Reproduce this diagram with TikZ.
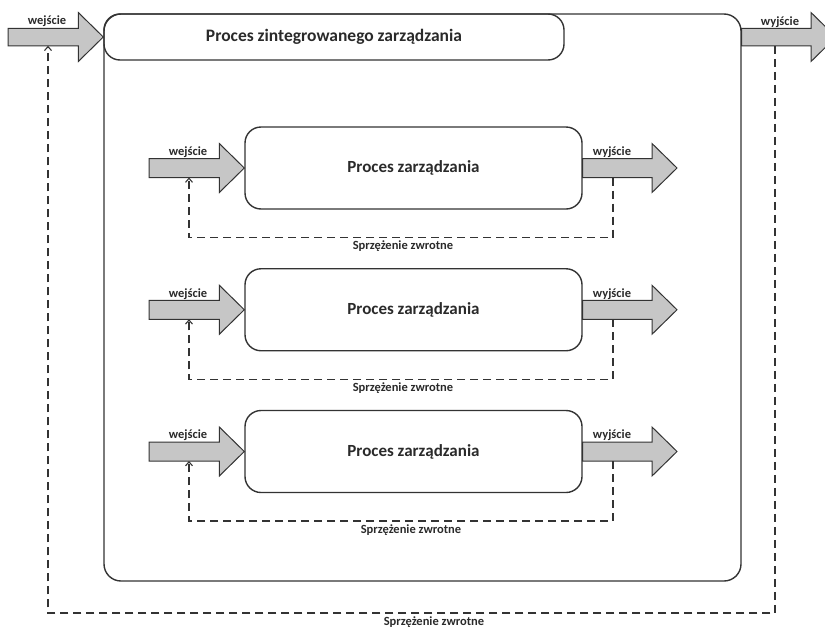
\documentclass[tikz,border=0pt]{standalone}
\usepackage{fontspec}
\setmainfont{Carlito}
\usetikzlibrary{arrows.meta,calc}

\definecolor{linegray}{HTML}{333333}
\definecolor{textgray}{HTML}{2A2A2A}
\definecolor{arrowgray}{HTML}{C6C6C6}

% Wide block arrow from the tail point #1 to the tip point #2,
% shaft half-height #3 (pt); the head is 25pt long and 49pt tall.
\newcommand{\blockarrowpath}[3]{%
  \draw[blockarrow] let \p1=(#1), \p2=(#2) in
    ({\x1},{\y2+#3pt}) -- ({\x2-25pt},{\y2+#3pt}) -- ({\x2-25pt},{\y2+24.5pt})
    -- (\p2) -- ({\x2-25pt},{\y2-24.5pt}) -- ({\x2-25pt},{\y2-#3pt})
    -- ({\x1},{\y2-#3pt}) -- cycle;}

\begin{document}
\begin{tikzpicture}[x=1pt,y=-1pt,
  stroke/.style={draw=linegray, line width=1.4pt},
  procbox/.style={stroke, rounded corners=16pt, inner sep=0pt,
    font=\fontsize{17}{20}\selectfont\bfseries, text=textgray},
  lbl/.style={font=\fontsize{12.5}{15}\selectfont\bfseries, text=textgray, inner sep=0pt},
  feedback/.style={draw=linegray, line width=1.1pt, dash pattern=on 8pt off 5pt},
  fbtip/.style={-{Straight Barb[length=4pt,width=7pt]}},
  blockarrow/.style={fill=arrowgray, draw=linegray, line width=1pt, line join=miter}]

  \useasboundingbox (0,0) rectangle (825,627);
  \clip (0,0) rectangle (825,627);

  % Outer frame and its title bar
  \node[stroke, rounded corners=17pt, minimum width=637pt, minimum height=567pt] (outer) at (422.5,297.5) {};
  \node[procbox, minimum width=460pt, minimum height=46pt,
    font=\fontsize{17.5}{20}\selectfont\bfseries] (title) at (334,37) {Proces zintegrowanego zarządzania};

  % Overall input and output
  \coordinate (topin) at (8,37);
  \coordinate (topout) at (836,37);
  \blockarrowpath{topin}{title.west}{8.75}
  \blockarrowpath{outer.east |- title.west}{topout}{8.75}
  \node[lbl] (topinlbl) at (47,21) {wejście};
  \node[lbl] (topoutlbl) at (780,22) {wyjście};

  % Overall feedback loop
  \coordinate (topfbR) at (775,45.75);
  \coordinate (topfbL) at (48,45.75);
  \coordinate (topfbB) at (0,613);
  \draw[feedback, fbtip] (topfbR) -- (topfbR |- topfbB) -- (topfbL |- topfbB) -- (topfbL);
  \node[lbl] (topfblbl) at (434,622) {Sprzężenie zwrotne};

  % The three management processes
  \foreach \i/\cy/\fx in {1/168/403, 2/309.75/403, 3/451.5/411} {
    \node[procbox, minimum width=337pt, minimum height=82pt] (p\i) at (413.5,\cy) {Proces zarządzania};
    \coordinate (in\i) at (149,\cy);
    \coordinate (out\i) at (677,\cy);
    \blockarrowpath{in\i}{p\i.west}{9.5}
    \blockarrowpath{p\i.east}{out\i}{9.5}
    \node[lbl] (inlbl\i) at (188,\cy-16) {wejście};
    \node[lbl] (outlbl\i) at (612,\cy-16) {wyjście};
    \coordinate (fbR\i) at (613,\cy+9.5);
    \coordinate (fbL\i) at (189,\cy+9.5);
    \coordinate (fbB\i) at (0,\cy+69.5);
    \draw[feedback, fbtip] (fbR\i) -- (fbR\i |- fbB\i) -- (fbL\i |- fbB\i) -- (fbL\i);
    \node[lbl] (fblbl\i) at (\fx,\cy+78.5) {Sprzężenie zwrotne};
  }
\end{tikzpicture}
\end{document}
